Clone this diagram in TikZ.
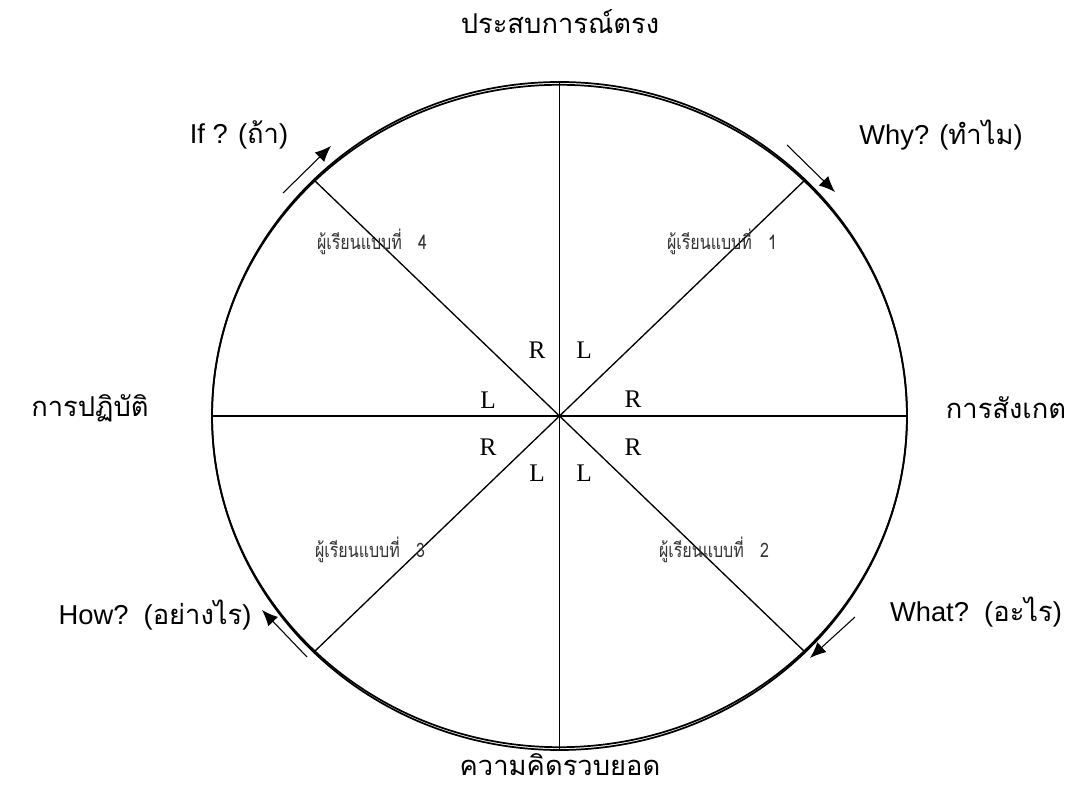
\documentclass[tikz,border=0pt]{standalone}
\usepackage{fontspec}
\setmainfont{Liberation Sans}
\newfontfamily\thai[Script=Thai]{Loma}
\newfontfamily\thainarrow[Script=Thai,FakeStretch=0.8]{Loma}
\newfontfamily\rl{Liberation Serif}
\usetikzlibrary{arrows.meta}
\tikzset{
  rim/.style={line width=1.3pt},
  spoke/.style={line width=1pt},
  flow/.style={line width=0.8pt,-{Latex[length=12pt,width=10pt]}},
  side/.style={font=\thai\fontsize{20.5}{24}\selectfont,inner sep=0pt},
  learner/.style={font=\thainarrow\fontsize{15}{18}\selectfont,text=black!80,inner sep=0pt},
  hemi/.style={font=\rl\fontsize{19}{22}\selectfont,inner sep=0pt}
}
\begin{document}
\begin{tikzpicture}[x=0.75pt,y=-0.75pt]
        \useasboundingbox (0,0) rectangle (1072,787);
        % circle and spokes
        \coordinate (c) at (559.5,416);
        \draw [rim] (c) ellipse [x radius=260.6pt, y radius=250.5pt];
        \draw [rim] (c) ellipse [x radius=260.6pt, y radius=248.4pt];
        \coordinate (n) at (559.5,82);
        \coordinate (s) at (559.5,750);
        \coordinate (w) at (212,416);
        \coordinate (e) at (907,416);
        \coordinate (ne) at (805.2,179.8);
        \coordinate (nw) at (313.8,179.8);
        \coordinate (se) at (805.2,652.2);
        \coordinate (sw) at (313.8,652.2);
        \draw [spoke] (n) -- (s);
        \draw [spoke] (w) -- (e);
        \draw [spoke] (ne) -- (sw);
        \draw [spoke] (nw) -- (se);
        % arrows along the rim
        \coordinate (a1) at (283,193);
        \coordinate (a2) at (331,146);
        \coordinate (b1) at (787,145);
        \coordinate (b2) at (835,192);
        \coordinate (d1) at (855,617);
        \coordinate (d2) at (810,658);
        \coordinate (f1) at (307,657);
        \coordinate (f2) at (262,610);
        \draw [flow] (a1) -- (a2);
        \draw [flow] (b1) -- (b2);
        \draw [flow] (d1) -- (d2);
        \draw [flow] (f1) -- (f2);
        % labels
        \node [side] (top) at (560,22) {ประสบการณ์ตรง};
        \node [side] (bot) at (560,765) {ความคิดรวบยอด};
        \node [side] (left) at (90,408) {การปฏิบัติ};
        \node [side] (right) at (1006,408) {การสังเกต};
        \node [side] (qif) at (239,135) {\rmfamily If ? ({\thai ถ้า})};
        \node [side] (qwhy) at (941,135) {\rmfamily Why? ({\thai ทำไม})};
        \node [side] (qhow) at (155,615) {\rmfamily How?\ \ ({\thai อย่างไร})};
        \node [side] (qwhat) at (976,612) {\rmfamily What?\ \ ({\thai อะไร})};
        \node [learner] (l4) at (372,242) {ผู้เรียนแบบที่\ \ \ 4};
        \node [learner] (l1) at (722,242) {ผู้เรียนแบบที่\ \ \ 1};
        \node [learner] (l3) at (370,550) {ผู้เรียนแบบที่\ \ \ 3};
        \node [learner] (l2) at (714,550) {ผู้เรียนแบบที่\ \ \ 2};
        \node [hemi] at (537,350) {R};
        \node [hemi] at (584,350) {L};
        \node [hemi] at (488,400) {L};
        \node [hemi] at (633,399) {R};
        \node [hemi] at (488,447) {R};
        \node [hemi] at (633,447) {R};
        \node [hemi] at (537,473) {L};
        \node [hemi] at (584,473) {L};
\end{tikzpicture}
\end{document}
